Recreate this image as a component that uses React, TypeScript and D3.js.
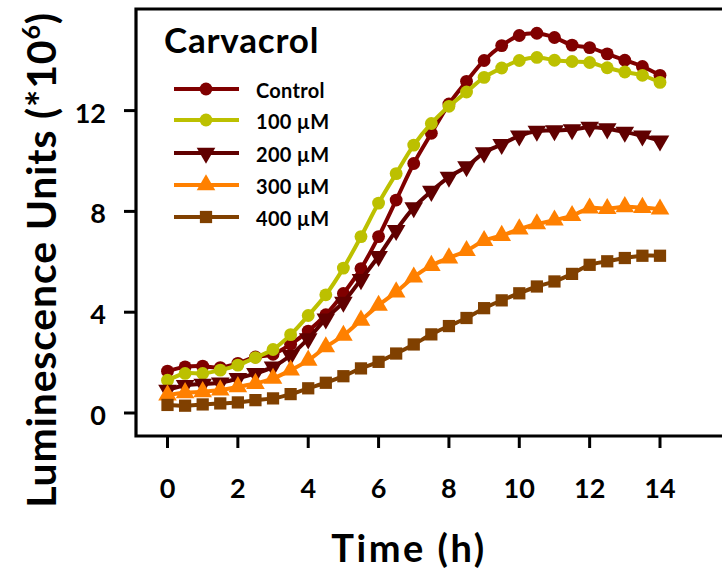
import React, { useRef, useEffect } from "react";
import * as d3 from "d3";

// sample times (h)
const hours = [0, 0.5, 1, 1.5, 2, 2.5, 3, 3.5, 4, 4.5, 5, 5.5, 6, 6.5, 7, 7.5, 8, 8.5, 9, 9.5, 10, 10.5, 11, 11.5, 12, 12.5, 13, 13.5, 14];

// luminescence (*10^6)
const control = [1.66, 1.83, 1.86, 1.8, 1.97, 2.22, 2.33, 2.73, 3.25, 3.9, 4.74, 5.73, 7.0, 8.45, 9.9, 11.1, 12.26, 13.16, 13.99, 14.58, 14.98, 15.07, 14.9, 14.6, 14.5, 14.25, 14.0, 13.75, 13.4];
const uM100 = [1.3, 1.57, 1.57, 1.7, 1.9, 2.2, 2.52, 3.11, 3.87, 4.69, 5.75, 7.0, 8.33, 9.5, 10.63, 11.49, 12.17, 12.74, 13.32, 13.69, 13.99, 14.11, 14.0, 13.95, 13.91, 13.7, 13.53, 13.4, 13.12];
const uM200 = [0.91, 1.1, 1.15, 1.2, 1.37, 1.57, 1.83, 2.29, 2.95, 3.74, 4.4, 5.3, 6.22, 7.25, 8.15, 8.8, 9.36, 9.78, 10.33, 10.66, 11.0, 11.19, 11.21, 11.25, 11.34, 11.28, 11.15, 11.0, 10.8];
const uM300 = [0.71, 0.8, 0.84, 0.91, 1.04, 1.17, 1.37, 1.7, 2.09, 2.62, 3.08, 3.68, 4.27, 4.8, 5.39, 5.85, 6.15, 6.44, 6.84, 7.04, 7.3, 7.5, 7.65, 7.83, 8.13, 8.11, 8.18, 8.15, 8.09];
const uM400 = [0.32, 0.29, 0.34, 0.38, 0.42, 0.51, 0.58, 0.75, 0.98, 1.2, 1.46, 1.77, 2.03, 2.36, 2.72, 3.12, 3.45, 3.77, 4.16, 4.47, 4.75, 5.02, 5.22, 5.52, 5.88, 6.02, 6.15, 6.24, 6.24];

const seriesNames = ["Control", "100 µM", "200 µM", "300 µM", "400 µM"];
const seriesValues = [control, uM100, uM200, uM300, uM400];
const seriesColors = ["#800000", "#bcc000", "#600000", "#ff8000", "#804000"];
const seriesSymbols = [d3.symbolCircle, d3.symbolCircle, d3.symbolTriangle, d3.symbolTriangle, d3.symbolSquare];
const flipped = [false, false, true, false, false]; // 200 µM uses downward triangles

const xTicks = [0, 2, 4, 6, 8, 10, 12, 14];
const yTicks = [0, 4, 8, 12];

const FONT = "Lato, 'Open Sans', sans-serif";

export default function App() {
  const svgRef = useRef<SVGSVGElement>(null);
  const width = 722;
  const height = 574;

  useEffect(() => {
    const svg = d3.select(svgRef.current);
    svg.selectAll("*").remove();

    const left = 136, right = 722, top = 9, bottom = 436;

    const x = d3.scaleLinear().domain([0, 14]).range([167.5, 660]);
    const y = d3.scaleLinear().domain([0, 12]).range([413, 110.6]);

    // frame (left, top, bottom; open on the right)
    svg.append("path")
      .attr("d", `M${right},${top}H${left}V${bottom}H${right}`)
      .attr("fill", "none")
      .attr("stroke", "#000")
      .attr("stroke-width", 3.2);

    // y ticks + labels
    const yg = svg.append("g");
    yTicks.forEach((t) => {
      yg.append("line")
        .attr("x1", left - 12).attr("x2", left)
        .attr("y1", y(t)).attr("y2", y(t))
        .attr("stroke", "#000").attr("stroke-width", 3);
      yg.append("text")
        .attr("x", 106).attr("y", y(t) + 1.5)
        .attr("text-anchor", "end")
        .attr("dominant-baseline", "central")
        .attr("font-family", FONT).attr("font-weight", 700).attr("font-size", 27)
        .text(t);
    });

    // x ticks + labels
    const xg = svg.append("g");
    xTicks.forEach((t) => {
      xg.append("line")
        .attr("x1", x(t)).attr("x2", x(t))
        .attr("y1", bottom).attr("y2", bottom + 12)
        .attr("stroke", "#000").attr("stroke-width", 3);
      xg.append("text")
        .attr("x", x(t)).attr("y", 498)
        .attr("text-anchor", "middle")
        .attr("font-family", FONT).attr("font-weight", 700).attr("font-size", 27)
        .text(t);
    });

    // axis titles
    svg.append("text")
      .attr("x", 409).attr("y", 562)
      .attr("text-anchor", "middle")
      .attr("font-family", FONT).attr("font-weight", 700).attr("font-size", 38)
      .attr("letter-spacing", 2.5)
      .text("Time (h)");

    const yt = svg.append("text")
      .attr("transform", "translate(56,260) rotate(-90)")
      .attr("text-anchor", "middle")
      .attr("font-family", FONT).attr("font-weight", 700).attr("font-size", 41)
      .attr("letter-spacing", 0.8);
    yt.append("tspan").text("Luminescence Units (*10");
    yt.append("tspan").attr("font-size", 25).attr("dy", -16).text("6");
    yt.append("tspan").attr("dy", 16).text(")");

    // series
    const line = d3.line<number>()
      .x((_, i) => x(hours[i]))
      .y((d) => y(d))
      .curve(d3.curveCatmullRom.alpha(0.5));

    seriesValues.forEach((vals, si) => {
      const g = svg.append("g");
      g.append("path")
        .attr("d", line(vals))
        .attr("fill", "none")
        .attr("stroke", seriesColors[si])
        .attr("stroke-width", 4);
      const sym = d3.symbol().type(seriesSymbols[si]).size(seriesSymbols[si] === d3.symbolCircle ? 130 : 150)();
      g.selectAll("path.pt")
        .data(vals)
        .enter()
        .append("path")
        .attr("class", "pt")
        .attr("d", sym)
        .attr("transform", (d, i) => `translate(${x(hours[i])},${y(d)})${flipped[si] ? " rotate(180)" : ""}`)
        .attr("fill", seriesColors[si]);
    });

    // legend
    svg.append("text")
      .attr("x", 164).attr("y", 53)
      .attr("font-family", FONT).attr("font-weight", 700).attr("font-size", 35)
      .attr("letter-spacing", 0.8)
      .text("Carvacrol");

    const rows = [89, 120, 153, 185, 217];
    seriesNames.forEach((name, si) => {
      const g = svg.append("g").attr("transform", `translate(0,${rows[si]})`);
      g.append("line")
        .attr("x1", 174).attr("x2", 239)
        .attr("stroke", seriesColors[si]).attr("stroke-width", 4);
      g.append("path")
        .attr("d", d3.symbol().type(seriesSymbols[si]).size(seriesSymbols[si] === d3.symbolCircle ? 130 : 150)())
        .attr("transform", `translate(206,0)${flipped[si] ? " rotate(180)" : ""}`)
        .attr("fill", seriesColors[si]);
      g.append("text")
        .attr("x", 256).attr("y", 1)
        .attr("dominant-baseline", "central")
        .attr("font-family", FONT).attr("font-weight", 700).attr("font-size", 20)
        .attr("letter-spacing", 0.3)
        .text(name);
    });
  }, []);

  return (
    <div style={{ position: "absolute", left: 0, top: 0, width, height, background: "#fff" }}>
      <svg ref={svgRef} width={width} height={height} viewBox={`0 0 ${width} ${height}`} style={{ display: "block" }} />
    </div>
  );
}
